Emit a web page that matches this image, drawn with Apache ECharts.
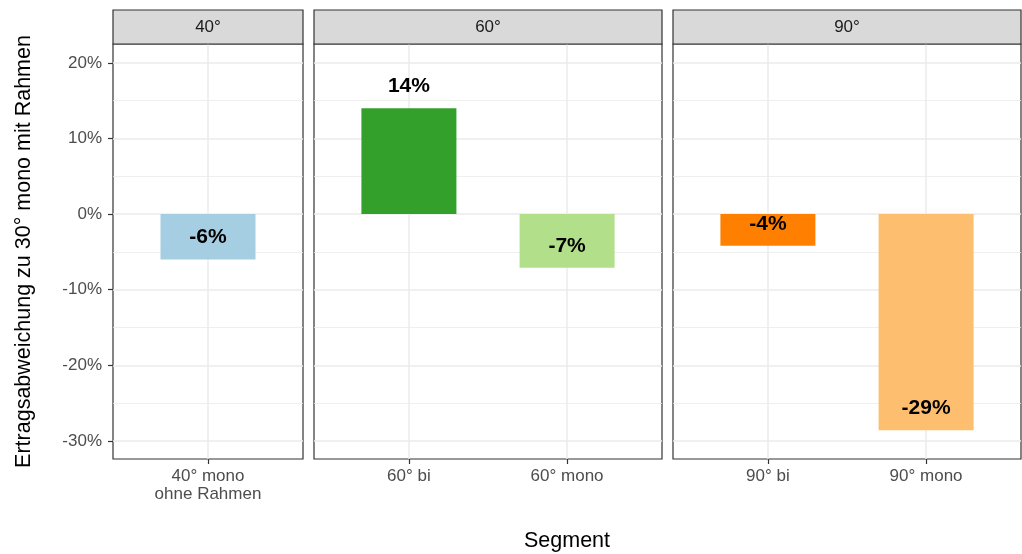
<!DOCTYPE html>
<html>
<head>
<meta charset="utf-8">
<script src="https://cdn.jsdelivr.net/npm/echarts@6/dist/echarts.min.js"></script>
<style>html,body{margin:0;padding:0;background:#fff;}#c{width:1022px;height:554px;}</style>
</head>
<body>
<div id="c"></div>
<script>
// ---- data ----
const facets = ['40°', '60°', '90°'];
const categories = [['40° mono\nohne Rahmen'], ['60° bi', '60° mono'], ['90° bi', '90° mono']];
const values = [[-6.0], [14.0, -7.1], [-4.2, -28.6]];
const yMajorTicks = [-30, -20, -10, 0, 10, 20];
const yMinorTicks = [-25, -15, -5, 5, 15];
const barColors = [['#A6CEE3'], ['#33A02C', '#B2DF8A'], ['#FF7F00', '#FDBF6F']];

// ---- layout / style ----
const FONT = '"Liberation Sans", Arial, Helvetica, sans-serif';
const panels = [
  { left: 113, width: 190 },
  { left: 314, width: 348 },
  { left: 673, width: 348 }
];
const TOP = 44, HEIGHT = 415, STRIP_TOP = 10;
const Y_MIN = -32.4, Y_MAX = 22.5;
const LABEL_SHIFT = 2.9;

const chart = echarts.init(document.getElementById('c'), null, { renderer: 'canvas' });

const grid = [], xAxis = [], yAxis = [], series = [], graphic = [];
panels.forEach((p, i) => {
  grid.push({ left: p.left, top: TOP, width: p.width, height: HEIGHT, show: true,
    borderColor: '#333333', borderWidth: 1.2, backgroundColor: 'transparent', containLabel: false });
  const xs = categories[i].map((_, j) => j + 1);
  xAxis.push({
    gridIndex: i, type: 'value', min: 0.4, max: categories[i].length + 0.6, position: 'bottom',
    axisLine: { show: false, onZero: false },
    axisTick: { show: true, customValues: xs, length: 5, lineStyle: { color: '#333333', width: 1.2 } },
    axisLabel: { show: true, customValues: xs, margin: 8, color: '#4D4D4D', fontSize: 17, lineHeight: 18,
      fontFamily: FONT, formatter: v => categories[i][Math.round(v) - 1] || '' },
    splitLine: { show: true, lineStyle: { color: '#EBEBEB', width: 1.5 } }
  });
  yAxis.push({
    gridIndex: i, type: 'value', min: Y_MIN, max: Y_MAX,
    axisLine: { show: false, onZero: false },
    axisTick: { show: i === 0, customValues: yMajorTicks, length: 5, lineStyle: { color: '#333333', width: 1.2 } },
    axisLabel: { show: i === 0, customValues: yMajorTicks, margin: 11, color: '#4D4D4D', fontSize: 17,
      fontFamily: FONT, formatter: v => v + '%' },
    splitLine: { show: true, lineStyle: { color: '#EBEBEB', width: 1.5 } },
    name: i === 0 ? 'Ertragsabweichung zu 30° mono mit Rahmen' : '',
    nameLocation: 'middle', nameGap: 78,
    nameTextStyle: { fontSize: 21.5, color: '#000000', fontFamily: FONT }
  });
  yAxis.push({
    gridIndex: i, type: 'value', min: Y_MIN, max: Y_MAX,
    axisLine: { show: false, onZero: false },
    axisTick: { show: false, customValues: yMinorTicks },
    axisLabel: { show: false, customValues: yMinorTicks },
    splitLine: { show: true, lineStyle: { color: '#EBEBEB', width: 0.8 } }
  });
  series.push({
    type: 'bar', xAxisIndex: i, yAxisIndex: 2 * i, barWidth: 95, z: 3,
    data: values[i].map((v, j) => ({ value: [j + 1, v], itemStyle: { color: barColors[i][j] } })),
    silent: true
  });
  series.push({
    type: 'scatter', xAxisIndex: i, yAxisIndex: 2 * i, symbolSize: 1, z: 4,
    itemStyle: { color: 'transparent' },
    data: values[i].map((v, j) => ({ value: [j + 1, v + LABEL_SHIFT], name: Math.round(v) + '%' })),
    label: { show: true, position: 'inside', formatter: '{b}', color: '#000000', opacity: 1, fontSize: 21,
      fontWeight: 'bold', fontFamily: FONT },
    silent: true
  });
  graphic.push({
    type: 'rect', shape: { x: p.left, y: STRIP_TOP, width: p.width, height: TOP - STRIP_TOP },
    style: { fill: '#D9D9D9', stroke: '#333333', lineWidth: 1.2 }, z: 10
  });
  graphic.push({
    type: 'text', x: p.left + p.width / 2, y: (STRIP_TOP + TOP) / 2,
    style: { text: facets[i], fill: '#1A1A1A', font: '17px ' + FONT, align: 'center', verticalAlign: 'middle' },
    z: 11
  });
});
graphic.push({
  type: 'text', x: (panels[0].left + panels[2].left + panels[2].width) / 2, y: 541,
  style: { text: 'Segment', fill: '#000000', font: '21.5px ' + FONT, align: 'center', verticalAlign: 'middle' },
  z: 11
});

chart.setOption({
  animation: false,
  backgroundColor: '#ffffff',
  grid, xAxis, yAxis, series, graphic
});
</script>
</body>
</html>
